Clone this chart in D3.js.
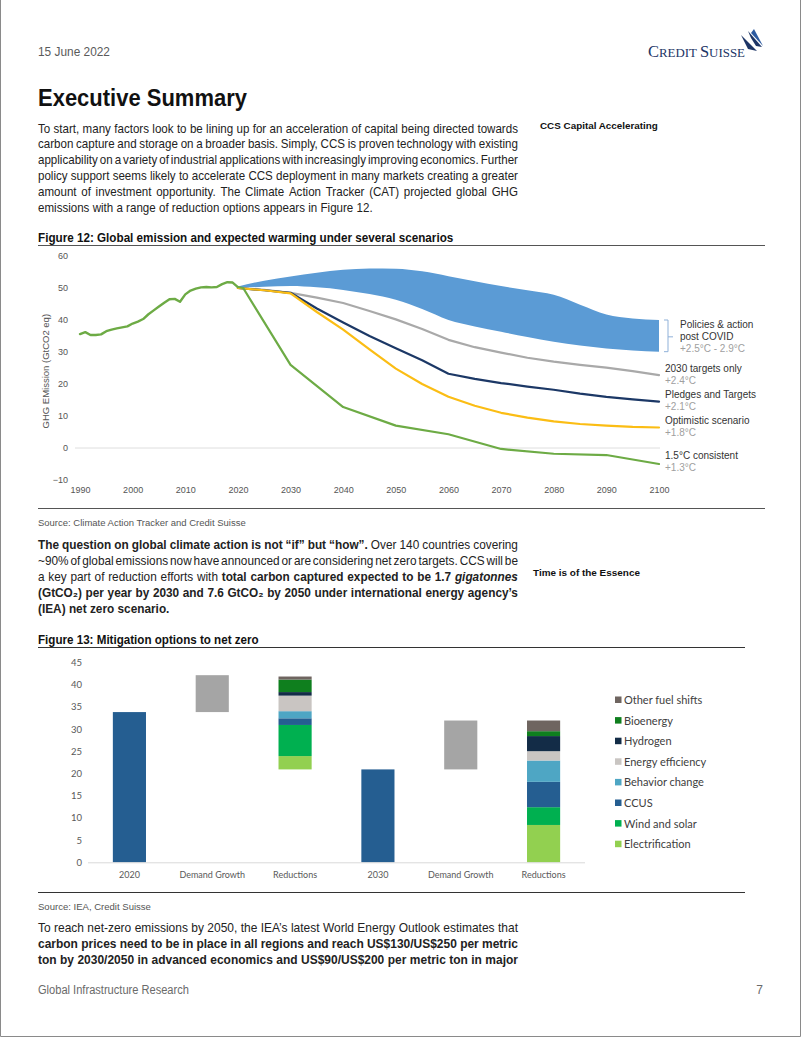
<!DOCTYPE html>
<html><head><meta charset="utf-8">
<script src="https://cdn.jsdelivr.net/npm/d3@7"></script>
<style>
html,body{margin:0;padding:0;background:#fff;}
svg{display:block;}
</style></head><body>
<svg id="page" width="802" height="1037"></svg>
<script>
// ================= DATA =================
// Figure 12 – historical emissions (GtCO2e)
const histYears = d3.range(1990, 2021);
const histValues = [35.6, 36.2, 35.3, 35.3, 35.5, 36.5, 37.0, 37.4, 37.7, 38.0,
                    38.9, 39.5, 40.3, 41.8, 43.0, 44.2, 45.4, 46.5, 46.6, 45.7,
                    48.0, 49.2, 49.8, 50.2, 50.3, 50.2, 50.3, 51.2, 51.8, 51.7, 50.3];
// Scenario projections (5-year steps)
const scenYears = [2020,2025,2030,2035,2040,2045,2050,2055,2060,2065,2070,2075,2080,2085,2090,2095,2100];
const policyUpper = [50.5, 52.3, 53.6, 54.8, 55.7, 56.1, 56.0, 55.2, 53.7, 52.1, 50.6, 49.3, 47.9, 44.8, 41.7, 40.5, 40.0];
const policyLower = [50.0, 50.4, 50.6, 50.2, 49.4, 48.1, 46.3, 43.4, 40.0, 38.0, 36.3, 34.7, 33.2, 32.0, 31.1, 30.5, 30.1];
const targets2030 = [50.0, 49.4, 48.5, 47.0, 45.3, 42.8, 40.2, 37.2, 33.8, 31.5, 29.8, 28.2, 27.0, 26.0, 25.1, 24.0, 22.8];
const pledges     = [50.0, 49.3, 48.5, 43.6, 39.2, 35.0, 31.2, 27.4, 23.2, 21.6, 20.3, 19.2, 18.2, 17.0, 16.0, 15.2, 14.5];
const optimistic  = [50.0, 49.3, 48.3, 42.5, 37.0, 30.8, 24.8, 20.0, 16.0, 13.2, 11.0, 9.5, 8.3, 7.5, 7.0, 6.6, 6.4];
const c15Years  = [2020, 2021, 2030, 2040, 2050, 2060, 2070, 2080, 2090, 2100];
const c15Values = [50.3, 50.0, 26.0, 12.8, 7.0, 4.3, -0.3, -1.8, -2.2, -5.0];
const yTicks1 = [-10, 0, 10, 20, 30, 40, 50, 60];
const xTicks1 = [1990, 2000, 2010, 2020, 2030, 2040, 2050, 2060, 2070, 2080, 2090, 2100];
const scenNames = ["2030 targets only", "Pledges and Targets", "Optimistic scenario", "1.5°C consistent"];
const scenTemps = ["+2.4°C", "+2.1°C", "+1.8°C", "+1.3°C"];
const policyName = ["Policies & action", "post COVID"];
const policyTemp = "+2.5°C - 2.9°C";

// Figure 13 – mitigation options (GtCO2)
const fig13Categories = ["2020", "Demand Growth", "Reductions", "2030", "Demand Growth", "Reductions"];
const emissionTotals = [33.8, 20.9];            // 2020, 2030
const demandFrom = [33.8, 20.9];
const demandTo   = [42.1, 31.9];
const mitigationOptions = ["Electrification", "Wind and solar", "CCUS", "Behavior change",
                           "Energy efficiency", "Hydrogen", "Bioenergy", "Other fuel shifts"];
const reductionBase = [20.9, 0];
const reductionsA = [3.0, 7.0, 1.5, 1.6, 3.5, 0.8, 2.8, 0.7];
const reductionsB = [8.4, 4.0, 5.7, 4.8, 2.1, 3.4, 1.1, 2.4];
const yTicks2 = [0, 5, 10, 15, 20, 25, 30, 35, 40, 45];

// ================= STYLE =================
const FONT = "'Liberation Sans', Arial, Helvetica, sans-serif";
const CFONT = "Lato, 'Open Sans', sans-serif";
const optColors = ["#92d050", "#00b050", "#255e91", "#4ea6c4", "#c9c5c2", "#132c47", "#0f7f1e", "#6f6560"];

const svg = d3.select("#page");
svg.append("rect").attr("width", 802).attr("height", 1037).attr("fill", "#fff");
// page frame
svg.append("path").attr("d", "M0.5,0 V1036.5 H800.5 V0").attr("fill", "none").attr("stroke", "#8a8a8a").attr("stroke-width", 1);

// ---------- text helpers ----------
function mk(g, segs, size, fill, family) {
  const t = g.append("text").attr("font-family", family || FONT).attr("font-size", size).attr("fill", fill || "#222");
  segs.forEach(([s, st]) => {
    const ts = t.append("tspan").text(s);
    if (st && st.includes("b")) ts.attr("font-weight", "bold");
    if (st && st.includes("i")) ts.attr("font-style", "italic");
  });
  return t;
}
function fit(g, x, y, segs, size, fill, target, family) {
  const t = mk(g, segs, size, fill, family);
  const w = t.node().getComputedTextLength();
  const sx = target ? target / w : 1;
  t.attr("transform", `translate(${x},${y}) scale(${sx},1)`);
  return t;
}
// Justified paragraph: each word is its own tspan with an explicit x.
function paragraph(g, x, y0, lh, lines, width, size, justifyLast) {
  const space = 0.278 * size;
  const built = lines.map(segs => {
    const t = g.append("text").attr("font-family", FONT).attr("font-size", size).attr("fill", "#222");
    const words = [];
    segs.forEach(([s, st]) => {
      s.split(/\s+/).filter(w => w.length).forEach(w => {
        const ts = t.append("tspan").text(w);
        if (st.includes("b")) ts.attr("font-weight", "bold");
        if (st.includes("i")) ts.attr("font-style", "italic");
        words.push({ ts, w: ts.node().getComputedTextLength() });
      });
    });
    const sumW = d3.sum(words, d => d.w);
    return { t, words, sumW, natural: sumW + space * (words.length - 1) };
  });
  const nFull = justifyLast ? lines.length : lines.length - 1;
  const sx = d3.median(built.slice(0, nFull).map(b => width / b.natural));
  built.forEach((b, i) => {
    b.t.attr("transform", `translate(${x},${y0 + i * lh}) scale(${sx},1)`);
    const gap = i < nFull ? (width / sx - b.sumW) / (b.words.length - 1) : space;
    let cx = 0;
    b.words.forEach(d => { d.ts.attr("x", cx); cx += d.w + gap; });
  });
}

// ---------- header ----------
fit(svg, 38, 56, [["15 June 2022", ""]], 12.5, "#5a5a5a", 72);
const logo = svg.append("g");
const lt = logo.append("text").attr("font-family", "'Liberation Serif', 'DejaVu Serif', serif").attr("fill", "#1d3566");
[["C", 16], ["REDIT ", 12.5], ["S", 16], ["UISSE", 12.5]].forEach(([s, fs]) => lt.append("tspan").attr("font-size", fs).text(s));
{ const w = lt.node().getComputedTextLength(); lt.attr("transform", `translate(648,57) scale(${97 / w},1)`); }
logo.append("path").attr("d", "M741,35 L757,51 L748,49 Z").attr("fill", "#1d3566");
logo.append("path").attr("d", "M748,31 L762,47 L756,46 L751,38 Z").attr("fill", "#1d3566");
logo.append("path").attr("d", "M751,33 L754,29 L763,46 Z").attr("fill", "#2c5aa0");

fit(svg, 38, 106, [["Executive Summary", "b"]], 23.5, "#111", 209);

paragraph(svg, 38, 132.5, 15.85, [
  [["To start, many factors look to be lining up for an acceleration of capital being directed towards", ""]],
  [["carbon capture and storage on a broader basis. Simply, CCS is proven technology with existing", ""]],
  [["applicability on a variety of industrial applications with increasingly improving economics. Further", ""]],
  [["policy support seems likely to accelerate CCS deployment in many markets creating a greater", ""]],
  [["amount of investment opportunity. The Climate Action Tracker (CAT) projected global GHG", ""]],
  [["emissions with a range of reduction options appears in Figure 12.", ""]]
], 480, 12.5, false);

fit(svg, 540, 128.5, [["CCS Capital Accelerating", "b"]], 9.5, "#111", 118);

// ---------- Figure 12 ----------
fit(svg, 38, 241.5, [["Figure 12: Global emission and expected warming under several scenarios", "b"]], 12, "#111", 416);
svg.append("line").attr("x1", 38).attr("x2", 765).attr("y1", 245.5).attr("y2", 245.5).attr("stroke", "#555");
svg.append("line").attr("x1", 38).attr("x2", 765).attr("y1", 508.5).attr("y2", 508.5).attr("stroke", "#555");

const x1 = d3.scaleLinear().domain([1990, 2100]).range([80, 659]);
const y1 = d3.scaleLinear().domain([-10, 60]).range([480, 256]);
const g1 = svg.append("g");

g1.append("line").attr("x1", x1(1990) - 5).attr("x2", x1(2100) + 1)
  .attr("y1", y1(0)).attr("y2", y1(0)).attr("stroke", "#dedede").attr("stroke-width", 1);

const yAx1 = g1.append("g").attr("transform", `translate(${x1(1990)},0)`)
  .call(d3.axisLeft(y1).tickValues(yTicks1).tickSize(0).tickPadding(12));
yAx1.select(".domain").remove();
yAx1.selectAll("text").attr("font-family", FONT).attr("font-size", 9).attr("fill", "#555");

const xAx1 = g1.append("g").attr("transform", `translate(0,${y1(-10)})`)
  .call(d3.axisBottom(x1).tickValues(xTicks1).tickFormat(d3.format("d")).tickSize(0).tickPadding(7));
xAx1.select(".domain").remove();
xAx1.selectAll("text").attr("font-family", FONT).attr("font-size", 9).attr("fill", "#555");

g1.append("text").attr("transform", `translate(49,${y1(24)}) rotate(-90)`)
  .attr("text-anchor", "middle").attr("font-family", FONT).attr("font-size", 9.5).attr("fill", "#555")
  .text("GHG EMission (GtCO2 eq)");

// band
const bandData = scenYears.map((yr, i) => ({ yr, lo: policyLower[i], hi: policyUpper[i] }));
g1.append("path").datum(bandData)
  .attr("d", d3.area().x(d => x1(d.yr)).y0(d => y1(d.lo)).y1(d => y1(d.hi)).curve(d3.curveMonotoneX))
  .attr("fill", "#5b9bd5");

const ln = d3.line().x(d => x1(d[0])).y(d => y1(d[1]));
function drawLine(xs, vs, color, w) {
  g1.append("path").datum(xs.map((x, i) => [x, vs[i]])).attr("d", ln)
    .attr("fill", "none").attr("stroke", color).attr("stroke-width", w || 2.2)
    .attr("stroke-linejoin", "round").attr("stroke-linecap", "round");
}
drawLine(scenYears, targets2030, "#a9a9a9");
drawLine(scenYears, pledges, "#1c3866");
drawLine(scenYears, optimistic, "#fbbd14");
drawLine(histYears, histValues, "#6dab45", 2.4);
drawLine(c15Years, c15Values, "#6dab45", 2.2);

// bracket + labels
const bx = x1(2100) + 5;
const bTop = y1(policyUpper[policyUpper.length - 1]), bBot = y1(policyLower[policyLower.length - 1]);
g1.append("path").attr("d", `M${bx},${bTop} H${bx + 4} V${bBot} H${bx}  M${bx + 4},${(bTop + bBot) / 2 + 1} H${bx + 9}`)
  .attr("fill", "none").attr("stroke", "#8fb1d9").attr("stroke-width", 1);
const mid = y1((policyUpper[16] + policyLower[16]) / 2);
const labFS = 10;
function lab(x, y, s, col) {
  g1.append("text").attr("x", x).attr("y", y).attr("font-family", FONT).attr("font-size", labFS)
    .attr("fill", col).text(s);
}
lab(680, mid - 7.5, policyName[0], "#333");
lab(680, mid + 4.5, policyName[1], "#333");
lab(680, mid + 16.5, policyTemp, "#a0a0a0");
const ends = [targets2030[16], pledges[16], optimistic[16], c15Values[c15Values.length - 1]];
ends.forEach((v, i) => {
  const yy = y1(v);
  const off = i === 3 ? -2 : 0;
  lab(x1(2100) + 6, yy - 3.5 + off, scenNames[i], "#333");
  lab(x1(2100) + 6, yy + 8.5 + off, scenTemps[i], "#a0a0a0");
});

fit(svg, 38, 525.5, [["Source: Climate Action Tracker and Credit Suisse", ""]], 9.5, "#555", 208);

// ---------- paragraph 2 ----------
paragraph(svg, 38, 549, 16, [
  [["The question on global climate action is not “if” but “how”.", "b"], ["  Over 140 countries covering", ""]],
  [["~90% of global emissions now have announced or are considering net zero targets. CCS will be", ""]],
  [["a key part of reduction efforts with ", ""], ["total carbon captured expected to be 1.7 ", "b"], ["gigatonnes", "bi"]],
  [["(GtCO₂) per year by 2030 and 7.6 GtCO₂ by 2050 under international energy agency’s", "b"]],
  [["(IEA) net zero scenario.", "b"]]
], 480, 12.5, false);
fit(svg, 533, 575.5, [["Time is of the Essence", "b"]], 9.5, "#111", 107);

// ---------- Figure 13 ----------
fit(svg, 38, 644, [["Figure 13: Mitigation options to net zero", "b"]], 12, "#111", 221);
svg.append("line").attr("x1", 38).attr("x2", 745).attr("y1", 647.5).attr("y2", 647.5).attr("stroke", "#333");
svg.append("line").attr("x1", 38).attr("x2", 745).attr("y1", 892.5).attr("y2", 892.5).attr("stroke", "#333");

const x2 = d3.scaleBand().domain(d3.range(fig13Categories.length)).range([88, 585]).paddingInner(0.6).paddingOuter(0.3);
const y2 = d3.scaleLinear().domain([0, 45]).range([862.3, 662.3]);
const g2 = svg.append("g");

const yAx2 = g2.append("g").attr("transform", "translate(88,0)")
  .call(d3.axisLeft(y2).tickValues(yTicks2).tickSize(0).tickPadding(6));
yAx2.select(".domain").remove();
yAx2.selectAll("text").attr("font-family", CFONT).attr("font-size", 9.5).attr("fill", "#595959");

// total bars
[0, 3].forEach((ci, k) => {
  g2.append("rect").attr("x", x2(ci)).attr("width", x2.bandwidth())
    .attr("y", y2(emissionTotals[k])).attr("height", y2(0) - y2(emissionTotals[k])).attr("fill", "#255e91");
});
// demand growth floating bars
[1, 4].forEach((ci, k) => {
  g2.append("rect").attr("x", x2(ci)).attr("width", x2.bandwidth())
    .attr("y", y2(demandTo[k])).attr("height", y2(demandFrom[k]) - y2(demandTo[k])).attr("fill", "#a5a5a5");
});
// stacked reductions
[[2, reductionsA], [5, reductionsB]].forEach(([ci, vals], k) => {
  let acc = reductionBase[k];
  vals.forEach((v, j) => {
    g2.append("rect").attr("x", x2(ci)).attr("width", x2.bandwidth())
      .attr("y", y2(acc + v)).attr("height", y2(acc) - y2(acc + v)).attr("fill", optColors[j]);
    acc += v;
  });
});
g2.append("line").attr("x1", 88).attr("x2", 585).attr("y1", y2(0) + 0.5).attr("y2", y2(0) + 0.5)
  .attr("stroke", "#d9d9d9");

const xAx2 = g2.append("g").attr("transform", `translate(0,${y2(0)})`)
  .call(d3.axisBottom(x2).tickFormat(i => fig13Categories[i]).tickSize(0).tickPadding(9));
xAx2.select(".domain").remove();
xAx2.selectAll("text").attr("font-family", CFONT).attr("font-size", 9).attr("fill", "#595959");

// legend (top to bottom: reversed stack order)
const legOrder = d3.range(mitigationOptions.length).reverse();
const leg = g2.append("g");
legOrder.forEach((j, r) => {
  const yy = 700 + r * 20.6;
  leg.append("rect").attr("x", 615).attr("y", yy - 3.5).attr("width", 6.5).attr("height", 6.5).attr("fill", optColors[j]);
  leg.append("text").attr("x", 624).attr("y", yy + 4).attr("font-family", CFONT).attr("font-size", 11)
    .attr("fill", "#404040").text(mitigationOptions[j]);
});

fit(svg, 38, 909.5, [["Source: IEA, Credit Suisse", ""]], 9.5, "#555", 113);

paragraph(svg, 38, 932, 16, [
  [["To reach net-zero emissions by 2050, the IEA’s latest World Energy Outlook estimates that", ""]],
  [["carbon prices need to be in place in all regions and reach US$130/US$250 per metric", "b"]],
  [["ton by 2030/2050 in advanced economics and US$90/US$200 per metric ton in major", "b"]]
], 480, 12.5, true);

// ---------- footer ----------
fit(svg, 38, 994, [["Global Infrastructure Research", ""]], 12, "#6a6a6a", 151);
svg.append("text").attr("x", 763).attr("y", 994).attr("text-anchor", "end").attr("font-family", FONT)
  .attr("font-size", 12).attr("fill", "#6a6a6a").text("7");
</script>
</body></html>
